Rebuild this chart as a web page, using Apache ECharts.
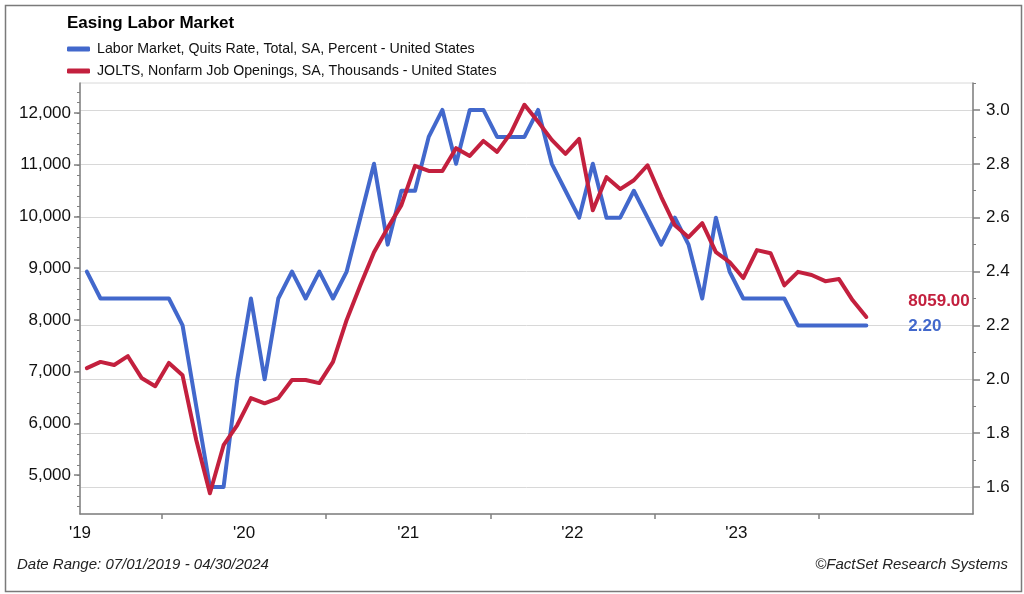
<!DOCTYPE html>
<html><head><meta charset="utf-8">
<script src="https://cdn.jsdelivr.net/npm/echarts@6/dist/echarts.min.js"></script>
<style>html,body{margin:0;padding:0;background:#fff}#c{width:1024px;height:594px}</style>
</head><body><div id="c"></div>
<script>
// ---------- data ----------
const months = [
 'Jul 2019','Aug 2019','Sep 2019','Oct 2019','Nov 2019','Dec 2019',
 'Jan 2020','Feb 2020','Mar 2020','Apr 2020','May 2020','Jun 2020','Jul 2020','Aug 2020','Sep 2020','Oct 2020','Nov 2020','Dec 2020',
 'Jan 2021','Feb 2021','Mar 2021','Apr 2021','May 2021','Jun 2021','Jul 2021','Aug 2021','Sep 2021','Oct 2021','Nov 2021','Dec 2021',
 'Jan 2022','Feb 2022','Mar 2022','Apr 2022','May 2022','Jun 2022','Jul 2022','Aug 2022','Sep 2022','Oct 2022','Nov 2022','Dec 2022',
 'Jan 2023','Feb 2023','Mar 2023','Apr 2023','May 2023','Jun 2023','Jul 2023','Aug 2023','Sep 2023','Oct 2023','Nov 2023','Dec 2023',
 'Jan 2024','Feb 2024','Mar 2024','Apr 2024'
];
const quitsRate = [
 2.4,2.3,2.3,2.3,2.3,2.3,
 2.3,2.2,1.9,1.6,1.6,2.0,2.3,2.0,2.3,2.4,2.3,2.4,
 2.3,2.4,2.6,2.8,2.5,2.7,2.7,2.9,3.0,2.8,3.0,3.0,
 2.9,2.9,2.9,3.0,2.8,2.7,2.6,2.8,2.6,2.6,2.7,2.6,
 2.5,2.6,2.5,2.3,2.6,2.4,2.3,2.3,2.3,2.3,2.2,2.2,
 2.2,2.2,2.2,2.2
];
const jobOpenings = [
 7070,7190,7130,7300,6880,6720,
 7170,6930,5680,4650,5580,5970,6490,6390,6490,6840,6840,6780,
 7190,8000,8670,9310,9780,10220,10980,10880,10880,11320,11170,11460,
 11250,11610,12160,11830,11480,11210,11500,10120,10760,10530,10700,10990,
 10380,9830,9600,9870,9310,9120,8810,9350,9290,8670,8930,8870,
 8750,8790,8380,8059
];
const yearLabels = ["'19","'20","'21","'22","'23"];
const leftTickLabels = [5000,6000,7000,8000,9000,10000,11000,12000];
const rightTickLabels = [1.6,1.8,2.0,2.2,2.4,2.6,2.8,3.0];
const quitsName = 'Labor Market, Quits Rate, Total, SA, Percent - United States';
const jobsName = 'JOLTS, Nonfarm Job Openings, SA, Thousands - United States';

// ---------- derived ----------
const BLUE = '#4268CC', RED = '#C3203E';
const FONT = '"Liberation Sans", Arial, Helvetica, sans-serif';
const AX = '#808080';
const yearTickPos = [], yearLabelPos = [];
months.forEach((m, i) => {
  if (m.startsWith('Jan')) yearTickPos.push(i);
  if (m.startsWith('Jul')) yearLabelPos.push(i);
});
const leftMinor = []; for (let v = 4400; v <= 12400; v += 200) leftMinor.push(v);
const rightMinor = []; for (let k = 17; k <= 31; k += 2) rightMinor.push(k / 10);

const chart = echarts.init(document.getElementById('c'), null, {renderer: 'canvas'});
chart.setOption({
  animation: false,
  backgroundColor: '#fff',
  textStyle: {fontFamily: FONT},
  title: {
    text: 'Easing Labor Market', left: 67, top: 15, padding: 0,
    textStyle: {fontSize: 17, fontWeight: 'bold', color: '#000', fontFamily: FONT}
  },
  legend: {
    orient: 'vertical', left: 67, top: 42, padding: 0,
    itemWidth: 23, itemHeight: 5, itemGap: 8, icon: 'roundRect',
    textStyle: {fontSize: 14.2, color: '#111', fontFamily: FONT, padding: [0, 0, 0, 2]},
    data: [quitsName, jobsName]
  },
  grid: {left: 80, right: 51, top: 83, bottom: 80, show: true, borderColor: '#d8d8d8', borderWidth: 1},
  xAxis: {
    type: 'value', min: 0, max: 65.3,
    axisLine: {show: true, lineStyle: {color: AX, width: 1.5}},
    axisTick: {show: true, customValues: yearTickPos, length: 5, lineStyle: {color: AX, width: 1.5}},
    axisLabel: {
      customValues: yearLabelPos, margin: 11, fontSize: 17, color: '#111', fontFamily: FONT,
      formatter: v => yearLabels[yearLabelPos.indexOf(Math.round(v))] || ''
    },
    splitLine: {show: false}
  },
  yAxis: [
    {
      type: 'value', position: 'left', min: 4250, max: 12580,
      axisLine: {show: true, lineStyle: {color: AX, width: 1.5}},
      axisTick: {show: true, customValues: leftTickLabels, length: 6, lineStyle: {color: AX, width: 1.5}},
      axisLabel: {customValues: leftTickLabels, margin: 9, fontSize: 17, color: '#111', fontFamily: FONT,
        formatter: v => Number(v).toLocaleString('en-US')},
      splitLine: {show: false}
    },
    {
      type: 'value', position: 'right', min: 1.5, max: 3.1,
      axisLine: {show: true, lineStyle: {color: AX, width: 1.5}},
      axisTick: {show: true, customValues: rightTickLabels, length: 7, lineStyle: {color: AX, width: 1.5}},
      axisLabel: {customValues: rightTickLabels, margin: 13, fontSize: 17, color: '#111', fontFamily: FONT,
        formatter: v => Number(v).toFixed(1)},
      splitLine: {show: true, lineStyle: {color: '#d8d8d8', width: 1}}
    },
    {
      type: 'value', position: 'left', min: 4250, max: 12580,
      axisLine: {show: false}, axisLabel: {show: false}, splitLine: {show: false},
      axisTick: {show: true, customValues: leftMinor, length: 3, lineStyle: {color: AX, width: 1}}
    },
    {
      type: 'value', position: 'right', min: 1.5, max: 3.1,
      axisLine: {show: false}, axisLabel: {show: false}, splitLine: {show: false},
      axisTick: {show: true, customValues: rightMinor, length: 3, lineStyle: {color: AX, width: 1}}
    }
  ],
  series: [
    {
      name: quitsName, type: 'line', yAxisIndex: 1, symbol: 'none',
      data: quitsRate.map((v, i) => [i + 0.5, v]),
      lineStyle: {width: 4, color: BLUE, join: 'round', cap: 'round'},
      itemStyle: {color: BLUE},
      endLabel: {show: true, formatter: p => p.value[1].toFixed(2), color: BLUE,
        fontWeight: 'bold', fontSize: 17, fontFamily: FONT, offset: [34, 1]}
    },
    {
      name: jobsName, type: 'line', yAxisIndex: 0, symbol: 'none',
      data: jobOpenings.map((v, i) => [i + 0.5, v]),
      lineStyle: {width: 4, color: RED, join: 'round', cap: 'round'},
      itemStyle: {color: RED},
      endLabel: {show: true, formatter: p => p.value[1].toFixed(2), color: RED,
        fontWeight: 'bold', fontSize: 17, fontFamily: FONT, offset: [34, -16]}
    }
  ],
  graphic: [
    {type: 'rect', left: 3, top: 3, silent: true, z: -1,
      shape: {width: 1016, height: 586}, style: {fill: null, stroke: '#7a7a7a', lineWidth: 1.5}},
    {type: 'text', left: 17, top: 557, silent: true,
      style: {text: 'Date Range: 07/01/2019 - 04/30/2024', font: 'italic 15px ' + FONT, fill: '#222'}},
    {type: 'text', right: 16, top: 557, silent: true,
      style: {text: '\u00A9FactSet Research Systems', font: 'italic 15px ' + FONT, fill: '#222'}}
  ]
});
</script>
</body></html>
